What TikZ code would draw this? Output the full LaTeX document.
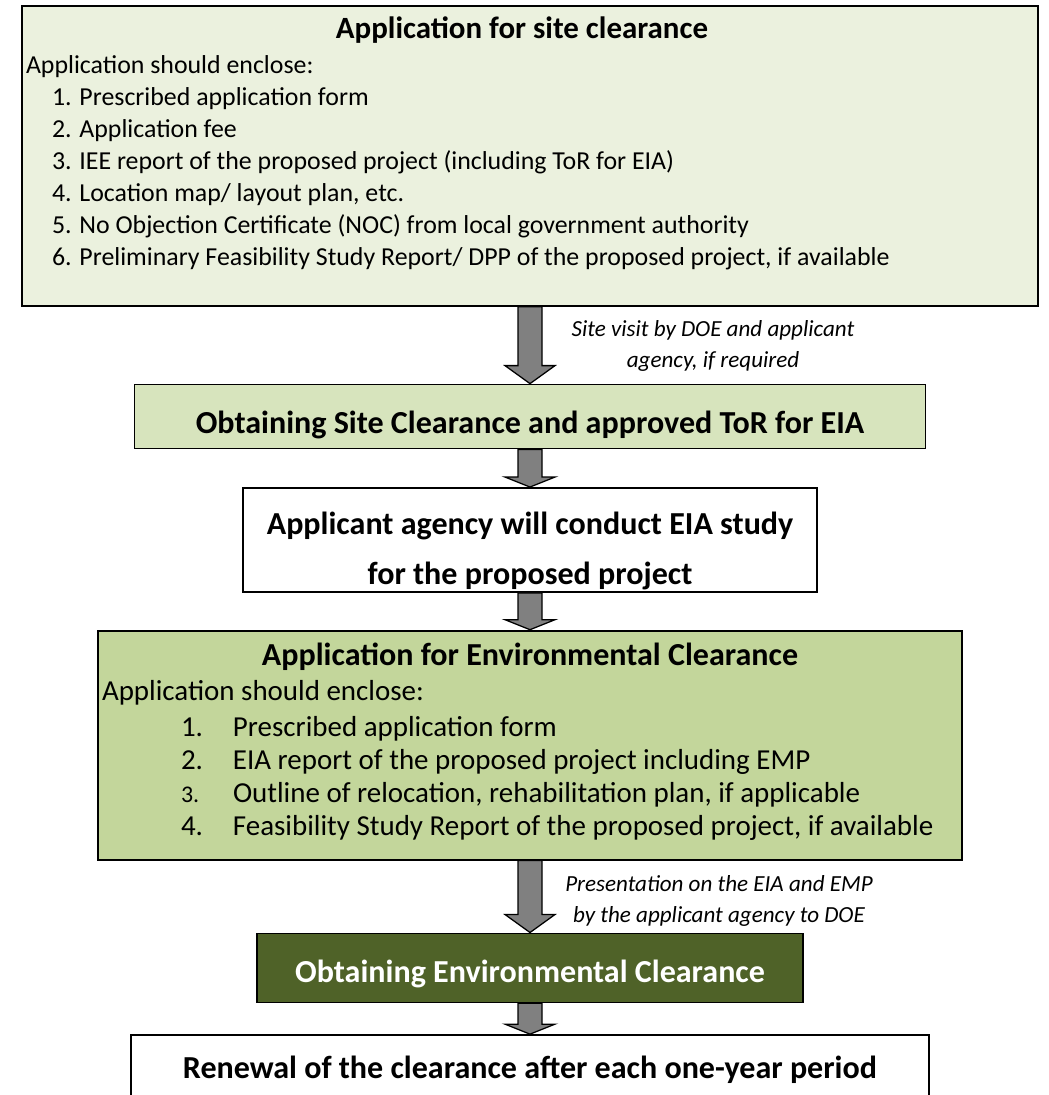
\documentclass[tikz,border=0pt]{standalone}
\usepackage{fontspec}
\setmainfont{Carlito}
\usetikzlibrary{positioning,calc}
\definecolor{palegreen}{HTML}{EBF1DE}
\definecolor{sagegreen}{HTML}{D7E4BD}
\definecolor{midgreen}{HTML}{C3D69B}
\definecolor{olivegreen}{HTML}{4F6228}
\definecolor{arrowgrey}{HTML}{808080}

\begin{document}
\begin{tikzpicture}[node distance=1cm,
  box/.style={draw=black,line width=1.3pt,inner sep=0pt,align=center,font=\fontsize{22.8}{26.3}\selectfont\bfseries},
  lift/.style={text height=#1,text depth=0pt},
  listbox/.style={draw=black,line width=1.3pt,inner sep=0pt},
  note/.style={align=center,font=\fontsize{16.4}{22}\selectfont\itshape},
  blk/.style={draw=black,line width=0.9pt,fill=arrowgrey,
    to path={let \p1=(\tikztostart), \p2=(\tikztotarget) in
      (\x1-0.3cm,\y1) -- (\x1-0.3cm,\y2+#1) -- (\x1-0.625cm,\y2+#1) -- (\x1,\y2)
      -- (\x1+0.625cm,\y2+#1) -- (\x1+0.3cm,\y2+#1) -- (\x1+0.3cm,\y1) -- cycle}}]
\useasboundingbox (0,0) rectangle (26.2,-27.375);
% boxes
\node[listbox,fill=palegreen,anchor=north] (site) at (13.25,-0.125) {\parbox[c][7.5cm][t]{25.4cm}{%
  \fontsize{18.4}{22.8}\selectfont\raggedright
  \makebox[25cm]{\rule{0pt}{0.825cm}\fontsize{22}{26}\selectfont\bfseries Application for site clearance}\\[0.06cm]
  \hspace*{0.1cm}Application should enclose:\\
  \hspace*{0.75cm}1. Prescribed application form\\
  \hspace*{0.75cm}2. Application fee\\
  \hspace*{0.75cm}3. IEE report of the proposed project (including ToR for EIA)\\
  \hspace*{0.75cm}4. Location map/ layout plan, etc.\\
  \hspace*{0.75cm}5. No Objection Certificate (NOC) from local government authority\\
  \hspace*{0.75cm}6. Preliminary Feasibility Study Report/ DPP of the proposed project, if available}};
\node[box,lift=0.835cm,fill=sagegreen,minimum width=19.775cm,minimum height=1.6cm,below=1.92cm of site] (tor) {Obtaining Site Clearance and approved ToR for EIA};
\node[box,fill=white,below=0.94cm of tor] (study) {\parbox[c][2.6cm][t]{14.35cm}{\centering\fontsize{22.8}{34.9}\selectfont
  \rule{0pt}{1.175cm}Applicant agency will conduct EIA study\\for the proposed project}};
\node[listbox,fill=midgreen,below=0.92cm of study] (envapp) {\parbox[c][5.725cm][t]{21.6cm}{%
  \fontsize{20.6}{23.5}\selectfont\raggedright
  \makebox[21.6cm]{\rule{0pt}{0.875cm}\fontsize{22.8}{26}\selectfont\bfseries Application for Environmental Clearance}\\[0.05cm]
  \hspace*{0.1cm}Application should enclose:\\[0.075cm]
  \hspace*{2.075cm}\makebox[1.3cm][l]{1.}Prescribed application form\\
  \hspace*{2.075cm}\makebox[1.3cm][l]{2.}EIA report of the proposed project including EMP\\
  \hspace*{2.075cm}\makebox[1.3cm][l]{\fontsize{17}{20}\selectfont 3.}Outline of relocation, rehabilitation plan, if applicable\\
  \hspace*{2.075cm}\makebox[1.3cm][l]{4.}Feasibility Study Report of the proposed project, if available}};
\node[box,lift=0.735cm,fill=olivegreen,text=white,minimum width=13.65cm,minimum height=1.725cm,below=1.8cm of envapp] (envclr) {Obtaining Environmental Clearance};
\node[box,lift=0.535cm,fill=white,minimum width=19.95cm,minimum height=1.65cm,below=0.77cm of envclr] (renew) {Renewal of the clearance after each one-year period};
% arrows
\draw[blk=0.45cm] (site.south) to (site.south |- tor.north);
\draw[blk=0.25cm] (tor.south) to (tor.south |- study.north);
\draw[blk=0.25cm] (study.south) to (study.south |- envapp.north);
\draw[blk=0.45cm] (envapp.south) to (envapp.south |- envclr.north);
\draw[blk=0.25cm] (envclr.south) to (envclr.south |- renew.north);
% labels
\node[note] (visitlbl) at ($(site.south)+(4.575,-0.99)$) {Site visit by DOE and applicant\\agency, if required};
\node[note] (presentlbl) at ($(envapp.south)+(4.725,-1.0)$) {Presentation on the EIA and EMP\\by the applicant agency to DOE};
\end{tikzpicture}
\end{document}
